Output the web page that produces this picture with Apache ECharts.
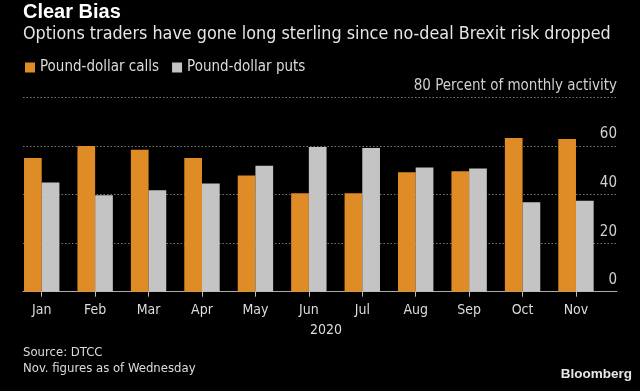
<!DOCTYPE html>
<html><head><meta charset="utf-8">
<script src="https://cdn.jsdelivr.net/npm/echarts@6/dist/echarts.min.js"></script>
<style>html,body{margin:0;padding:0;background:#000;}#c{width:640px;height:391px;}</style>
</head><body><div id="c"></div>
<script>
var months = ['Jan','Feb','Mar','Apr','May','Jun','Jul','Aug','Sep','Oct','Nov'];
var calls = [55.1, 60.0, 58.4, 55.1, 47.8, 40.5, 40.5, 49.2, 49.6, 63.3, 62.9];
var puts  = [45.0, 39.7, 41.8, 44.5, 51.9, 59.6, 59.2, 51.1, 50.7, 36.8, 37.4];
var yTicks = [0, 20, 40, 60, 80];
var FONT = "'Liberation Sans Narrow','DejaVu Sans Condensed','Roboto Condensed',sans-serif";
var chart = echarts.init(document.getElementById('c'));
var gridTop = 97.4, gridBottom = 391 - 291.7;
chart.setOption({
  backgroundColor: '#000',
  animation: false,
  textStyle: {fontFamily: FONT},
  graphic: [
    {type:'text', left: 23, top: 2, style:{text:'Clear Bias', fill:'#fff', font:"bold 20px 'Liberation Sans','DejaVu Sans',sans-serif"}},
    {type:'text', left: 23, top: 25, style:{text:'Options traders have gone long sterling since no-deal Brexit risk dropped', fill:'#e6e6e6', font:"17.8px " + FONT}},
    {type:'text', left: 310, top: 323, style:{text:'2020', fill:'#dcdcdc', font:"14px " + FONT}},
    {type:'text', left: 23, top: 346, style:{text:'Source: DTCC', fill:'#dcdcdc', font:"13px " + FONT}},
    {type:'text', left: 23, top: 362, style:{text:'Nov. figures as of Wednesday', fill:'#dcdcdc', font:"13px " + FONT}},
    {type:'text', right: 8, top: 367, style:{text:'Bloomberg', fill:'#e6e6e6', font:"bold 13.5px 'Liberation Sans','DejaVu Sans',sans-serif"}}
  ],
  legend: {
    left: 20, top: 55, icon: 'rect', itemWidth: 10, itemHeight: 10, itemGap: 13,
    textStyle: {color: '#dcdcdc', fontSize: 15, fontFamily: FONT},
    data: ['Pound-dollar calls', 'Pound-dollar puts']
  },
  grid: [
    {left: 15, right: 640 - 602.7, top: gridTop, bottom: gridBottom},
    {left: 23, right: 23, top: gridTop, bottom: gridBottom}
  ],
  xAxis: [
    {type: 'category', gridIndex: 0, data: months, boundaryGap: true,
     axisLine: {show: false},
     axisTick: {show: true, alignWithLabel: true, length: 5, lineStyle: {color: '#bbb'}},
     axisLabel: {color: '#dcdcdc', fontSize: 14, margin: 12, fontFamily: FONT}},
    {type: 'value', gridIndex: 1, min: 0, max: 1, show: true,
     axisLine: {show: true, lineStyle: {color: '#aaa', width: 1}},
     axisTick: {show: false}, axisLabel: {show: false}, splitLine: {show: false}}
  ],
  yAxis: [
    {type: 'value', gridIndex: 0, min: 0, max: 80, show: false},
    {type: 'value', gridIndex: 1, min: 0, max: 80, interval: 20, position: 'right',
     axisLine: {show: false}, axisTick: {show: false},
     splitLine: {show: true, lineStyle: {color: '#777', type: [1.5, 2], width: 1}},
     axisLabel: {inside: true, color: '#d0d0d0', fontSize: 15, fontFamily: FONT,
       verticalAlign: 'bottom', margin: 0, align: 'right', padding: [0, 0, 4, 0],
       formatter: function (v) { return v === 80 ? '80 Percent of monthly activity' : String(v); }}}
  ],
  series: [
    {name: 'Pound-dollar calls', type: 'bar', xAxisIndex: 0, yAxisIndex: 0, data: calls,
     barWidth: 17.7, barGap: '0%', itemStyle: {color: '#df8b26'}, z: 3},
    {name: 'Pound-dollar puts', type: 'bar', xAxisIndex: 0, yAxisIndex: 0, data: puts,
     barWidth: 17.7, barGap: '0%', itemStyle: {color: '#c4c4c4'}, z: 3}
  ]
});
</script></body></html>
